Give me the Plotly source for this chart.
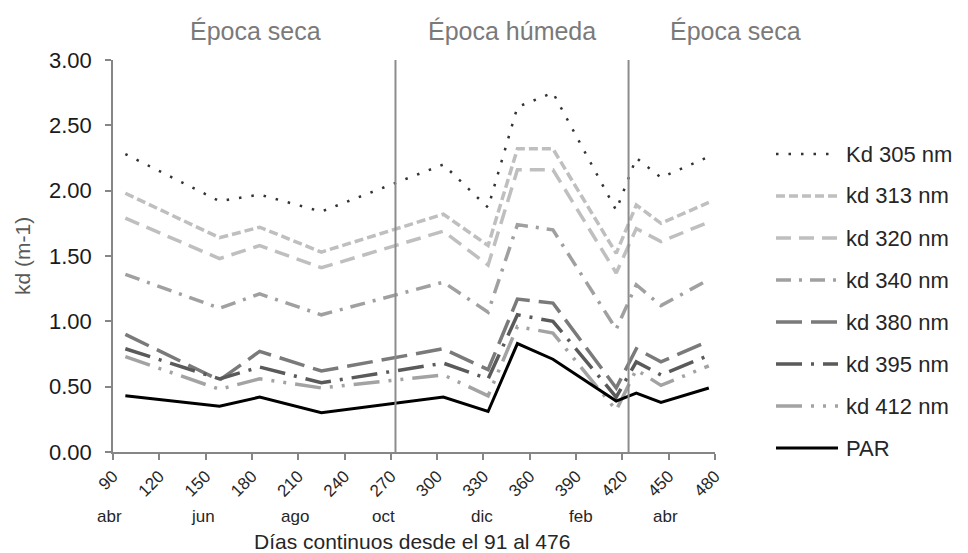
import plotly.graph_objects as go

# Sampling days (continuous day count) and light attenuation coefficients
days = [98, 159, 185, 225, 304, 333, 352, 375, 416, 429, 445, 476]

kd305 = [2.28, 1.92, 1.97, 1.84, 2.20, 1.87, 2.64, 2.75, 1.85, 2.25, 2.10, 2.26]
kd313 = [1.98, 1.64, 1.72, 1.53, 1.82, 1.58, 2.32, 2.32, 1.52, 1.89, 1.75, 1.91]
kd320 = [1.79, 1.48, 1.58, 1.41, 1.69, 1.43, 2.16, 2.16, 1.37, 1.71, 1.61, 1.76]
kd340 = [1.36, 1.10, 1.21, 1.05, 1.30, 1.07, 1.74, 1.70, 0.94, 1.28, 1.12, 1.32]
kd380 = [0.90, 0.55, 0.77, 0.62, 0.79, 0.63, 1.17, 1.14, 0.49, 0.79, 0.69, 0.85]
kd395 = [0.79, 0.56, 0.65, 0.53, 0.68, 0.56, 1.05, 1.00, 0.42, 0.69, 0.59, 0.74]
kd412 = [0.73, 0.48, 0.56, 0.49, 0.59, 0.43, 0.96, 0.91, 0.32, 0.63, 0.51, 0.66]
par = [0.43, 0.35, 0.42, 0.30, 0.42, 0.31, 0.83, 0.71, 0.39, 0.45, 0.38, 0.49]

series_names = ["Kd 305 nm", "kd 313 nm", "kd 320 nm", "kd 340 nm",
                "kd 380 nm", "kd 395 nm", "kd 412 nm", "PAR"]
series_values = [kd305, kd313, kd320, kd340, kd380, kd395, kd412, par]

# Season boundaries and labels
season_bounds = [273, 424]
season_labels = ["Época seca", "Época húmeda", "Época seca"]
season_label_px = [255, 512, 735]

# Month labels along the day axis
month_labels = ["abr", "jun", "ago", "oct", "dic", "feb", "abr"]
month_days = [88, 148, 208, 265, 329, 393, 448]

x_ticks = list(range(90, 481, 30))
y_ticks = [0, 0.5, 1.0, 1.5, 2.0, 2.5, 3.0]

# Line styles: (color, width, dash)
styles = [
    ("#333333", 2.5, "2.5px,10px"),
    ("#bfbfbf", 3.5, "9px,4px"),
    ("#bfbfbf", 3.5, "15px,8px"),
    ("#a0a0a0", 3.5, "15px,8px,3px,8px"),
    ("#7a7a7a", 3.5, "26px,9px"),
    ("#5a5a5a", 3.5, "26px,9px,3px,9px"),
    ("#a3a3a3", 3.5, "26px,9px,3px,9px,3px,9px"),
    ("#000000", 3.0, "solid"),
]

W, H = 968, 553
L, R, T, B = 113, 715, 60, 452
pw, ph = R - L, B - T
X0, X1 = 90, 480

def px_x(x):
    return (x - L) / pw

def px_y(y):
    return 1 - (y - T) / ph

def day_to_paper(d):
    return (d - X0) / (X1 - X0)

FONT = "Liberation Sans, Arial, sans-serif"

fig = go.Figure()
for name, vals, (color, width, dash) in zip(series_names, series_values, styles):
    fig.add_trace(go.Scatter(
        x=days, y=vals, mode="lines", name=name,
        line=dict(color=color, width=width, dash=dash),
        showlegend=False,
    ))

shapes = []
for b in season_bounds:
    shapes.append(dict(type="line", xref="x", yref="y", x0=b, x1=b, y0=0, y1=3,
                       line=dict(color="#8c8c8c", width=2)))

annotations = []
for lab, xp in zip(season_labels, season_label_px):
    annotations.append(dict(text=lab, xref="paper", yref="paper",
                            x=px_x(xp), y=px_y(31), showarrow=False,
                            xanchor="center", yanchor="middle",
                            font=dict(family=FONT, size=25, color="#7a7a7a")))

for lab, d in zip(month_labels, month_days):
    annotations.append(dict(text=lab, xref="paper", yref="paper",
                            x=day_to_paper(d), y=px_y(516),
                            showarrow=False, xanchor="center", yanchor="middle",
                            font=dict(family=FONT, size=17, color="#262626")))

annotations.append(dict(text="Días continuos desde el 91 al 476", xref="paper", yref="paper",
                        x=px_x(412), y=px_y(541), showarrow=False,
                        xanchor="center", yanchor="middle",
                        font=dict(family=FONT, size=21, color="#262626")))
annotations.append(dict(text="kd (m-1)", xref="paper", yref="paper",
                        x=px_x(22), y=px_y(256), showarrow=False, textangle=-90,
                        xanchor="center", yanchor="middle",
                        font=dict(family=FONT, size=21, color="#595959")))

# Legend: line sample plus label for each series
leg_top, leg_step = 154, 42
for i, (name, (color, width, dash)) in enumerate(zip(series_names, styles)):
    yy = px_y(leg_top + leg_step * i)
    shapes.append(dict(type="line", xref="paper", yref="paper",
                       x0=px_x(776), x1=px_x(838), y0=yy, y1=yy,
                       line=dict(color=color, width=width, dash=dash)))
    annotations.append(dict(text=name, xref="paper", yref="paper",
                            x=px_x(844), y=yy, showarrow=False,
                            xanchor="left", yanchor="middle",
                            font=dict(family=FONT, size=22, color="#262626")))

fig.update_layout(
    width=W, height=H,
    margin=dict(l=L, r=W - R, t=T, b=H - B, pad=0),
    paper_bgcolor="white", plot_bgcolor="white",
    shapes=shapes, annotations=annotations,
    showlegend=False,
    xaxis=dict(range=[X0, X1], tickmode="array", tickvals=x_ticks,
               ticktext=[str(t) for t in x_ticks], tickangle=-45,
               ticks="outside", ticklen=6, tickcolor="#868686", tickwidth=1.5,
               showline=True, linecolor="#868686", linewidth=1.5,
               showgrid=False, zeroline=False,
               tickfont=dict(family=FONT, size=17, color="#262626")),
    yaxis=dict(range=[0, 3], tickmode="array", tickvals=y_ticks,
               ticktext=[f"{v:.2f}" for v in y_ticks],
               ticks="outside", ticklen=6, tickcolor="#868686", tickwidth=1.5,
               ticklabelstandoff=9,
               showline=True, linecolor="#868686", linewidth=1.5,
               showgrid=False, zeroline=False,
               tickfont=dict(family=FONT, size=22, color="#1a1a1a")),
)

fig.write_html("out.html")
